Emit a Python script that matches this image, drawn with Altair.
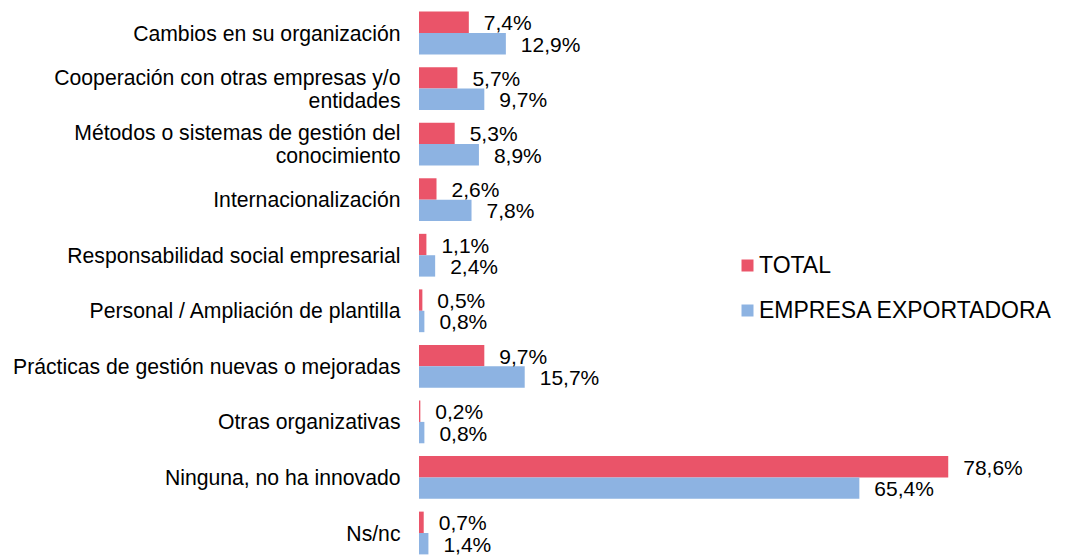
import altair as alt
import pandas as pd

categories = [
    "Cambios en su organización",
    "Cooperación con otras empresas y/o|entidades",
    "Métodos o sistemas de gestión del|conocimiento",
    "Internacionalización",
    "Responsabilidad social empresarial",
    "Personal / Ampliación de plantilla",
    "Prácticas de gestión nuevas o mejoradas",
    "Otras organizativas",
    "Ninguna, no ha innovado",
    "Ns/nc",
]
total = [7.4, 5.7, 5.3, 2.6, 1.1, 0.5, 9.7, 0.2, 78.6, 0.7]
exportadora = [12.9, 9.7, 8.9, 7.8, 2.4, 0.8, 15.7, 0.8, 65.4, 1.4]
series = ["TOTAL", "EMPRESA EXPORTADORA"]
colors = ["#EA5469", "#8DB3E2"]

rows = []
for c, t, e in zip(categories, total, exportadora):
    for s, v in zip(series, [t, e]):
        rows.append({"cat": c, "serie": s, "val": v,
                     "lab": f"{v:.1f}".replace(".", ",") + "%"})
df = pd.DataFrame(rows)

FONT = "Liberation Sans"

y = alt.Y("cat:N", sort=categories, title=None,
          scale=alt.Scale(paddingInner=0.23, paddingOuter=0.065),
          axis=alt.Axis(domain=False, ticks=False, labelPadding=19,
                        labelFontSize=21.2, labelFont=FONT, labelColor="#000000",
                        labelLimit=500, labelLineHeight=23,
                        labelOffset=alt.condition("indexof(datum.label, '|') >= 0",
                                                  alt.value(-10), alt.value(1.5)),
                        labelExpr="split(datum.label, '|')"))
yoff = alt.YOffset("serie:N", sort=series, scale=alt.Scale(domain=series))

base = alt.Chart(df)

bars = base.mark_bar().encode(
    x=alt.X("val:Q", axis=None, scale=alt.Scale(domain=[0, 90])),
    y=y,
    yOffset=yoff,
    color=alt.Color("serie:N", sort=series,
                    scale=alt.Scale(domain=series, range=colors),
                    legend=alt.Legend(title=None, orient="none", legendX=317, legendY=246,
                                      symbolType="square", symbolSize=144,
                                      symbolStrokeWidth=0,
                                      labelFontSize=23, labelFont=FONT,
                                      labelColor="#000000", labelOffset=0,
                                      rowPadding=21, labelLimit=500)),
)

texts = base.mark_text(align="left", baseline="middle", dx=15, dy=2,
                       fontSize=21, font=FONT, color="#000000").encode(
    x=alt.X("val:Q", scale=alt.Scale(domain=[0, 90])),
    y=y,
    yOffset=yoff,
    text="lab:N",
)

chart = alt.layer(bars, texts).properties(
    width=606, height=550,
    autosize=alt.AutoSizeParams(type="none"),
    padding={"left": 411, "top": 0, "right": 34, "bottom": 0},
).configure_view(stroke=None)

chart.save("out.html", embed_options={"renderer": "svg", "actions": False})
